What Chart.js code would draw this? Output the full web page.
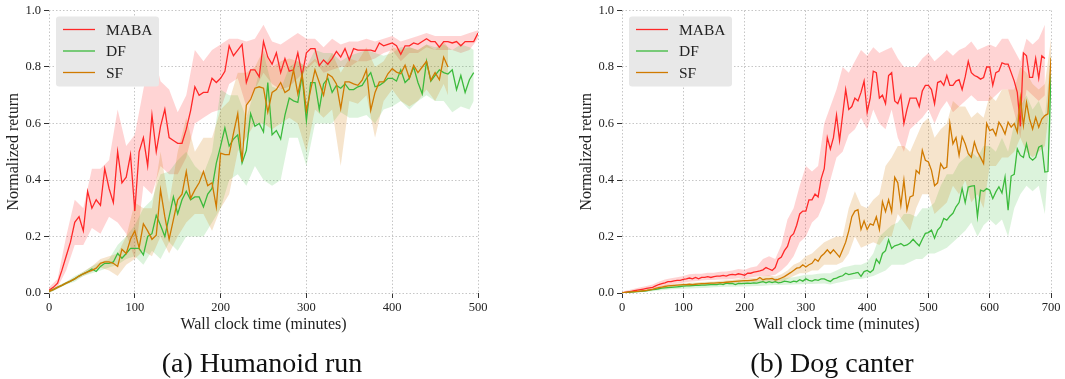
<!DOCTYPE html>
<html>
<head>
<meta charset="utf-8">
<script src="https://cdn.jsdelivr.net/npm/chart.js@4.4.1/dist/chart.umd.min.js"></script>
<style>
  body { margin: 0; background: #fff; width: 1065px; height: 379px; overflow: hidden; position: relative; }
  canvas { position: absolute; top: 0; }
  #humCanvas { left: 0; }
  #dogCanvas { left: 532px; }
  .caption { position: absolute; top: 347px; line-height: 32px; font-size: 28px; color: #111;
             font-family: "Liberation Serif", "Times New Roman", serif; transform: translateX(-50%); white-space: nowrap; }
</style>
</head>
<body>
<canvas id="humCanvas" width="532" height="379"></canvas>
<canvas id="dogCanvas" width="533" height="379"></canvas>
<div class="caption" style="left:262px">(a) Humanoid run</div>
<div class="caption" style="left:832px">(b) Dog canter</div>
<script>
const FONT = '"Liberation Serif", "Times New Roman", serif';

const seriesNames = ['MABA', 'DF', 'SF'];
const lineColors = ['#ff2828', '#3cba3c', '#d07a00'];
const bandColors = ['rgba(255,40,40,0.2)', 'rgba(60,186,60,0.18)', 'rgba(208,122,0,0.2)'];

// Humanoid run: mean curves, one value every 5 minutes from 0
const humMaba = [
  0.01, 0.02, 0.035, 0.08, 0.13, 0.18, 0.25, 0.27, 0.22, 0.36,
  0.30, 0.33, 0.31, 0.44, 0.37, 0.32, 0.50, 0.39, 0.41, 0.49,
  0.29, 0.50, 0.55, 0.45, 0.63, 0.50, 0.59, 0.65, 0.55, 0.54,
  0.53, 0.53, 0.58, 0.645, 0.73, 0.70, 0.71, 0.71, 0.76, 0.745,
  0.76, 0.785, 0.875, 0.84, 0.86, 0.88, 0.745, 0.79, 0.79, 0.765,
  0.89, 0.835, 0.81, 0.85, 0.78, 0.83, 0.785, 0.79, 0.85, 0.77,
  0.85, 0.865, 0.865, 0.805, 0.825, 0.81, 0.83, 0.855, 0.835, 0.865,
  0.825, 0.865, 0.86, 0.86, 0.86, 0.86, 0.855, 0.885, 0.875, 0.88,
  0.885, 0.875, 0.845, 0.875, 0.875, 0.885, 0.88, 0.89, 0.90, 0.89,
  0.89, 0.87, 0.89, 0.89, 0.885, 0.89, 0.875, 0.89, 0.89, 0.89,
  0.92
];
const humDf = [
  0.006, 0.012, 0.02, 0.027, 0.035, 0.042, 0.05, 0.06, 0.068, 0.075,
  0.085, 0.076, 0.094, 0.105, 0.105, 0.11, 0.14, 0.123, 0.14, 0.158,
  0.158, 0.158, 0.135, 0.2, 0.21, 0.275, 0.24, 0.2, 0.27, 0.34,
  0.28, 0.33, 0.36, 0.33, 0.34, 0.34, 0.305, 0.35, 0.37, 0.46,
  0.52, 0.585, 0.52, 0.545, 0.56, 0.46, 0.505, 0.635, 0.59, 0.60,
  0.57, 0.745, 0.56, 0.575, 0.545, 0.63, 0.69, 0.68, 0.675, 0.77,
  0.61, 0.745, 0.745, 0.65, 0.74, 0.76, 0.71, 0.735, 0.725, 0.74,
  0.72, 0.72, 0.73, 0.735, 0.76, 0.78, 0.73, 0.735, 0.745, 0.76,
  0.76, 0.75, 0.79, 0.745, 0.76, 0.80, 0.745, 0.705, 0.82, 0.75,
  0.77, 0.79, 0.78, 0.775, 0.79, 0.72, 0.77, 0.71, 0.755, 0.78
];
const humSf = [
  0.006, 0.012, 0.02, 0.027, 0.035, 0.042, 0.05, 0.06, 0.068, 0.075,
  0.08, 0.088, 0.105, 0.11, 0.11, 0.105, 0.094, 0.155, 0.14, 0.19,
  0.22, 0.16, 0.245, 0.22, 0.19, 0.205, 0.365, 0.27, 0.19, 0.26,
  0.33, 0.35, 0.43, 0.335, 0.365, 0.39, 0.43, 0.38, 0.39, 0.305,
  0.495, 0.49, 0.49, 0.565, 0.635, 0.465, 0.665, 0.685, 0.725, 0.73,
  0.725, 0.64, 0.71, 0.72, 0.745, 0.71, 0.72, 0.79, 0.705, 0.775,
  0.645, 0.72, 0.79, 0.745, 0.70, 0.775, 0.765, 0.74, 0.653, 0.747,
  0.747, 0.74, 0.735, 0.753, 0.79, 0.647, 0.71, 0.747, 0.747, 0.776,
  0.794, 0.782, 0.776, 0.806, 0.76, 0.806, 0.78, 0.80, 0.82, 0.753,
  0.78, 0.755, 0.835, 0.80
];

// Humanoid run: shaded bands, one value every 10 minutes (last point at the series end)
const humMabaLo = [0.0, 0.02, 0.08, 0.17, 0.17, 0.23, 0.21, 0.27, 0.25, 0.21, 0.12, 0.38, 0.35, 0.45, 0.42, 0.42, 0.48,
  0.60, 0.62, 0.64, 0.65, 0.74, 0.76, 0.66, 0.72, 0.78, 0.74, 0.72, 0.73, 0.76, 0.79, 0.82, 0.78, 0.79, 0.80, 0.80,
  0.82, 0.82, 0.83, 0.85, 0.86, 0.82, 0.85, 0.85, 0.87, 0.86, 0.86, 0.86, 0.85, 0.86, 0.90];
const humMabaHi = [0.02, 0.05, 0.2, 0.33, 0.30, 0.44, 0.44, 0.47, 0.65, 0.52, 0.56, 0.72, 0.87, 0.75, 0.72, 0.64, 0.70,
  0.86, 0.82, 0.86, 0.88, 0.90, 0.90, 0.89, 0.90, 0.95, 0.89, 0.88, 0.90, 0.92, 0.90, 0.90, 0.87, 0.90, 0.88, 0.89,
  0.89, 0.90, 0.89, 0.90, 0.91, 0.89, 0.90, 0.91, 0.92, 0.91, 0.91, 0.91, 0.91, 0.92, 0.93];
const humDfLo = [0.0, 0.015, 0.03, 0.04, 0.06, 0.07, 0.08, 0.09, 0.10, 0.12, 0.13, 0.1, 0.15, 0.12, 0.18, 0.15, 0.2,
  0.2, 0.2, 0.25, 0.3, 0.4, 0.42, 0.38, 0.45, 0.4, 0.38, 0.4, 0.55, 0.55, 0.45, 0.6, 0.6, 0.6, 0.64, 0.62, 0.62,
  0.63, 0.6, 0.65, 0.66, 0.68, 0.65, 0.68, 0.70, 0.68, 0.68, 0.64, 0.66, 0.65, 0.68];
const humDfHi = [0.01, 0.025, 0.04, 0.06, 0.075, 0.095, 0.11, 0.12, 0.17, 0.2, 0.24, 0.3, 0.33, 0.42, 0.43, 0.47, 0.5,
  0.45, 0.42, 0.5, 0.72, 0.7, 0.7, 0.62, 0.72, 0.85, 0.73, 0.72, 0.8, 0.82, 0.8, 0.86, 0.85, 0.85, 0.82, 0.84, 0.85,
  0.86, 0.85, 0.84, 0.85, 0.87, 0.87, 0.86, 0.88, 0.87, 0.88, 0.86, 0.88, 0.87, 0.86];
const humSfLo = [0.0, 0.015, 0.03, 0.045, 0.06, 0.075, 0.09, 0.08, 0.06, 0.1, 0.12, 0.15, 0.13, 0.2, 0.14, 0.2, 0.25,
  0.28, 0.28, 0.22, 0.3, 0.35, 0.5, 0.55, 0.6, 0.6, 0.58, 0.6, 0.62, 0.6, 0.5, 0.65, 0.62, 0.65, 0.45, 0.68, 0.67,
  0.70, 0.55, 0.68, 0.72, 0.68, 0.66, 0.68, 0.72, 0.68, 0.74, 0.70];
const humSfHi = [0.01, 0.025, 0.04, 0.055, 0.075, 0.095, 0.12, 0.13, 0.14, 0.2, 0.32, 0.3, 0.3, 0.5, 0.32, 0.5, 0.62,
  0.5, 0.55, 0.55, 0.65, 0.68, 0.78, 0.78, 0.8, 0.86, 0.8, 0.82, 0.83, 0.82, 0.8, 0.83, 0.8, 0.85, 0.78, 0.83, 0.82,
  0.87, 0.80, 0.82, 0.87, 0.86, 0.87, 0.86, 0.88, 0.86, 0.89, 0.87];

// Dog canter: mean curves, one value every 5 minutes from 0
const dogMaba = [
  0.0, 0.002, 0.004, 0.006, 0.008, 0.01, 0.012, 0.014, 0.016, 0.018,
  0.02, 0.025, 0.03, 0.033, 0.036, 0.04, 0.04, 0.043, 0.045, 0.045,
  0.048, 0.05, 0.053, 0.05, 0.055, 0.05, 0.055, 0.055, 0.058, 0.055,
  0.058, 0.06, 0.06, 0.062, 0.06, 0.064, 0.066, 0.064, 0.068, 0.066,
  0.063, 0.07, 0.07, 0.074, 0.076, 0.078, 0.082, 0.09, 0.085, 0.08,
  0.09, 0.12, 0.127, 0.15, 0.165, 0.2, 0.21, 0.24, 0.28, 0.29,
  0.29, 0.33, 0.33, 0.35, 0.34, 0.405, 0.44, 0.55, 0.51, 0.55,
  0.63, 0.54, 0.63, 0.72, 0.65, 0.66, 0.69, 0.68, 0.71, 0.75,
  0.64, 0.69, 0.785, 0.78, 0.69, 0.70, 0.67, 0.77, 0.78, 0.68,
  0.67, 0.70, 0.60, 0.65, 0.69, 0.69, 0.69, 0.66, 0.715, 0.735,
  0.735, 0.72, 0.67, 0.745, 0.75, 0.735, 0.77, 0.735, 0.735, 0.75,
  0.755, 0.72, 0.765, 0.82, 0.78, 0.77, 0.765, 0.757, 0.763, 0.80,
  0.80, 0.735, 0.78, 0.786, 0.815, 0.81, 0.81, 0.78, 0.75, 0.71,
  0.59, 0.85, 0.84, 0.763, 0.763, 0.83, 0.76, 0.84, 0.83
];
const dogDf = [
  0.0, 0.001, 0.002, 0.003, 0.004, 0.005, 0.006, 0.007, 0.008, 0.01,
  0.012, 0.013, 0.015, 0.017, 0.018, 0.019, 0.02, 0.021, 0.022, 0.023,
  0.024, 0.025, 0.025, 0.026, 0.027, 0.027, 0.028, 0.028, 0.029, 0.03,
  0.03, 0.03, 0.032, 0.03, 0.035, 0.033, 0.034, 0.03, 0.034, 0.033,
  0.034, 0.035, 0.034, 0.036, 0.035, 0.038, 0.04, 0.036, 0.04, 0.037,
  0.04, 0.036, 0.038, 0.042, 0.04, 0.038, 0.042, 0.04, 0.047, 0.042,
  0.05, 0.045, 0.042, 0.047, 0.045, 0.05, 0.05, 0.045, 0.041, 0.05,
  0.053, 0.058, 0.061, 0.07, 0.065, 0.068, 0.07, 0.073, 0.059, 0.076,
  0.08, 0.073, 0.082, 0.12, 0.105, 0.14, 0.15, 0.188, 0.158, 0.167,
  0.17, 0.175, 0.167, 0.17, 0.178, 0.19, 0.178, 0.167, 0.19, 0.211,
  0.214, 0.223, 0.194, 0.223, 0.235, 0.264, 0.258, 0.272, 0.282, 0.305,
  0.32, 0.37, 0.32, 0.375, 0.378, 0.38, 0.27, 0.364, 0.36, 0.37,
  0.364, 0.334, 0.358, 0.376, 0.354, 0.41, 0.293, 0.414, 0.42, 0.51,
  0.487, 0.48, 0.528, 0.48, 0.47, 0.48, 0.516, 0.522, 0.428, 0.43,
  0.775
];
const dogSf = [
  0.0, 0.002, 0.003, 0.004, 0.005, 0.006, 0.007, 0.008, 0.009, 0.011,
  0.013, 0.016, 0.019, 0.021, 0.023, 0.025, 0.026, 0.027, 0.028, 0.029,
  0.03, 0.03, 0.031, 0.03, 0.031, 0.032, 0.033, 0.033, 0.034, 0.035,
  0.035, 0.036, 0.037, 0.037, 0.038, 0.039, 0.04, 0.041, 0.042, 0.043,
  0.044, 0.044, 0.045, 0.046, 0.047, 0.055, 0.047, 0.05, 0.05, 0.052,
  0.046, 0.048, 0.053, 0.058, 0.065, 0.072, 0.08, 0.088, 0.09, 0.1,
  0.092, 0.1, 0.105, 0.12, 0.112, 0.13, 0.14, 0.153, 0.14, 0.153,
  0.14, 0.127, 0.153, 0.18, 0.22, 0.27, 0.29, 0.295, 0.225, 0.255,
  0.225, 0.245, 0.24, 0.27, 0.225, 0.323, 0.288, 0.33, 0.288, 0.41,
  0.39, 0.31, 0.40, 0.295, 0.34, 0.345, 0.434, 0.423, 0.505, 0.47,
  0.464, 0.434, 0.38, 0.39, 0.458, 0.44, 0.446, 0.60, 0.528, 0.55,
  0.487, 0.554, 0.528, 0.493, 0.48, 0.534, 0.50, 0.48, 0.458, 0.60,
  0.575, 0.58, 0.558, 0.605, 0.587, 0.563, 0.605, 0.587, 0.60, 0.57,
  0.69, 0.593, 0.675, 0.616, 0.58, 0.622, 0.587, 0.616, 0.628, 0.634,
  0.833
];

// Dog canter: shaded bands, one value every 10 minutes
const dogMabaLo = [0, 0, 0.003, 0.006, 0.01, 0.014, 0.02, 0.026, 0.03, 0.034, 0.036, 0.04, 0.042, 0.044, 0.046, 0.046,
  0.048, 0.048, 0.05, 0.052, 0.05, 0.055, 0.058, 0.06, 0.06, 0.065, 0.08, 0.1, 0.13, 0.18, 0.2, 0.25, 0.27, 0.32, 0.4,
  0.48, 0.5, 0.56, 0.58, 0.62, 0.58, 0.65, 0.6, 0.58, 0.65, 0.55, 0.5, 0.58, 0.6, 0.62, 0.65, 0.6, 0.65, 0.68, 0.64,
  0.66, 0.68, 0.7, 0.68, 0.68, 0.68, 0.7, 0.72, 0.72, 0.64, 0.55, 0.72, 0.7, 0.68, 0.7];
const dogMabaHi = [0.005, 0.01, 0.015, 0.02, 0.025, 0.03, 0.04, 0.048, 0.052, 0.056, 0.06, 0.066, 0.068, 0.068, 0.072,
  0.072, 0.075, 0.076, 0.08, 0.085, 0.082, 0.09, 0.095, 0.12, 0.13, 0.12, 0.17, 0.26, 0.3, 0.38, 0.45, 0.43, 0.45, 0.6,
  0.66, 0.72, 0.8, 0.78, 0.82, 0.86, 0.84, 0.87, 0.85, 0.86, 0.87, 0.83, 0.8, 0.8, 0.8, 0.83, 0.85, 0.82, 0.84, 0.86,
  0.84, 0.86, 0.87, 0.89, 0.86, 0.87, 0.88, 0.87, 0.9, 0.9, 0.86, 0.82, 0.9, 0.88, 0.9, 0.95];
const dogDfLo = [0, 0.001, 0.002, 0.003, 0.004, 0.006, 0.009, 0.011, 0.013, 0.014, 0.015, 0.016, 0.017, 0.018, 0.019,
  0.02, 0.021, 0.022, 0.022, 0.023, 0.023, 0.024, 0.025, 0.026, 0.027, 0.028, 0.028, 0.029, 0.03, 0.031, 0.032, 0.032,
  0.033, 0.034, 0.03, 0.035, 0.04, 0.045, 0.05, 0.05, 0.055, 0.06, 0.07, 0.08, 0.1, 0.1, 0.1, 0.11, 0.12, 0.12, 0.14,
  0.14, 0.15, 0.16, 0.18, 0.2, 0.22, 0.25, 0.2, 0.24, 0.26, 0.24, 0.26, 0.2, 0.3, 0.35, 0.38, 0.36, 0.38, 0.28, 0.6];
const dogDfHi = [0.002, 0.004, 0.006, 0.008, 0.011, 0.015, 0.02, 0.024, 0.027, 0.029, 0.031, 0.033, 0.035, 0.036, 0.037,
  0.038, 0.04, 0.042, 0.043, 0.044, 0.045, 0.046, 0.047, 0.05, 0.052, 0.052, 0.053, 0.054, 0.056, 0.06, 0.065, 0.065,
  0.068, 0.07, 0.07, 0.08, 0.09, 0.095, 0.1, 0.1, 0.11, 0.14, 0.2, 0.22, 0.24, 0.25, 0.28, 0.28, 0.27, 0.3, 0.3, 0.32,
  0.38, 0.42, 0.42, 0.46, 0.48, 0.5, 0.48, 0.52, 0.52, 0.5, 0.55, 0.5, 0.6, 0.66, 0.7, 0.65, 0.68, 0.62, 0.85];
const dogSfLo = [0, 0.002, 0.004, 0.005, 0.007, 0.01, 0.015, 0.018, 0.02, 0.022, 0.024, 0.025, 0.025, 0.027, 0.028,
  0.029, 0.03, 0.031, 0.033, 0.034, 0.036, 0.037, 0.038, 0.038, 0.04, 0.036, 0.04, 0.05, 0.06, 0.07, 0.07, 0.08, 0.08,
  0.1, 0.1, 0.1, 0.11, 0.14, 0.2, 0.16, 0.17, 0.18, 0.17, 0.2, 0.2, 0.28, 0.25, 0.22, 0.3, 0.35, 0.35, 0.28, 0.3, 0.32,
  0.38, 0.35, 0.4, 0.32, 0.35, 0.3, 0.45, 0.45, 0.48, 0.48, 0.5, 0.55, 0.5, 0.48, 0.5, 0.52, 0.7];
const dogSfHi = [0.003, 0.005, 0.008, 0.01, 0.013, 0.017, 0.024, 0.028, 0.031, 0.033, 0.035, 0.036, 0.037, 0.039, 0.04,
  0.041, 0.043, 0.045, 0.047, 0.05, 0.052, 0.053, 0.055, 0.06, 0.062, 0.058, 0.066, 0.08, 0.1, 0.11, 0.13, 0.14, 0.16,
  0.18, 0.19, 0.2, 0.2, 0.3, 0.36, 0.31, 0.3, 0.33, 0.35, 0.45, 0.48, 0.52, 0.52, 0.5, 0.55, 0.6, 0.62, 0.55, 0.58, 0.6,
  0.68, 0.66, 0.66, 0.62, 0.64, 0.62, 0.7, 0.68, 0.72, 0.72, 0.72, 0.8, 0.78, 0.74, 0.72, 0.74, 0.9];

// time axis helpers: 0, dx, 2dx ... up to last (last appended if off-grid)
function steps(last, dx) {
  const xs = [];
  for (let x = 0; x <= last; x += dx) xs.push(x);
  if (xs[xs.length - 1] !== last) xs.push(last);
  return xs;
}
function toPoints(xs, ys) {
  return ys.map((y, i) => ({ x: xs[i], y: y }));
}

const boxLegend = {
  id: 'boxLegend',
  afterDraw(chart) {
    const ctx = chart.ctx;
    const a = chart.chartArea;
    const x0 = a.left + 7, y0 = a.top + 6;
    ctx.save();
    ctx.fillStyle = '#e8e8e8';
    ctx.beginPath();
    ctx.roundRect(x0, y0, 103, 70, 3);
    ctx.fill();
    ctx.font = '15.5px ' + FONT;
    ctx.textBaseline = 'middle';
    seriesNames.forEach((name, i) => {
      const y = y0 + 13 + i * 21.5;
      ctx.strokeStyle = lineColors[i];
      ctx.lineWidth = 1.3;
      ctx.beginPath();
      ctx.moveTo(x0 + 7, y);
      ctx.lineTo(x0 + 39, y);
      ctx.stroke();
      ctx.fillStyle = '#222';
      ctx.fillText(name, x0 + 50, y + 1);
    });
    ctx.restore();
  }
};

function makeChart(id, xMax, padLeft, padRight, lines, bands) {
  const datasets = [];
  lines.forEach((ys, i) => {
    datasets.push({
      label: seriesNames[i],
      data: toPoints(ys.map((_, k) => k * 5), ys),
      borderColor: lineColors[i],
      borderWidth: 1.3,
      pointRadius: 0,
      fill: false,
      tension: 0,
      order: 2 - i
    });
  });
  bands.forEach((b, i) => {
    const xs = steps(b.last, 10);
    datasets.push({
      label: '', data: toPoints(xs, b.lo), borderColor: 'rgba(0,0,0,0)', borderWidth: 0,
      pointRadius: 0, fill: false, order: 5 - i
    });
    datasets.push({
      label: '', data: toPoints(xs, b.hi), borderColor: 'rgba(0,0,0,0)', borderWidth: 0,
      pointRadius: 0, fill: '-1', backgroundColor: bandColors[i], order: 5 - i
    });
  });

  return new Chart(document.getElementById(id), {
    type: 'line',
    data: { datasets: datasets },
    plugins: [boxLegend],
    options: {
      responsive: false,
      animation: false,
      events: [],
      layout: { padding: { left: padLeft, right: padRight, top: 10, bottom: 45 } },
      plugins: { legend: { display: false }, tooltip: { enabled: false } },
      scales: {
        x: {
          type: 'linear', min: 0, max: xMax,
          ticks: { stepSize: 100, color: '#222', font: { family: FONT, size: 12.5 }, padding: 2, maxRotation: 0 },
          grid: { color: '#b8b8b8', lineWidth: 0.8, tickColor: '#333', tickLength: 5, tickWidth: 1, tickBorderDash: [] },
          border: { display: false, dash: [1.5, 2] },
          title: { display: true, text: 'Wall clock time (minutes)', color: '#222',
                   font: { family: FONT, size: 16 }, padding: 0 },
          afterFit: s => { s.height = 41; }
        },
        y: {
          min: 0, max: 1,
          ticks: { stepSize: 0.2, color: '#222', font: { family: FONT, size: 12.5 }, padding: 3,
                   callback: v => v.toFixed(1) },
          grid: { color: '#b8b8b8', lineWidth: 0.8, tickColor: '#333', tickLength: 5, tickWidth: 1, tickBorderDash: [] },
          border: { display: false, dash: [1.5, 2] },
          title: { display: true, text: 'Normalized return', color: '#222',
                   font: { family: FONT, size: 16 }, padding: { top: 4, bottom: 0 } },
          afterFit: s => { s.width = 49; }
        }
      }
    }
  });
}

makeChart('humCanvas', 500, 0, 54, [humMaba, humDf, humSf], [
  { last: 500, lo: humMabaLo, hi: humMabaHi },
  { last: 495, lo: humDfLo, hi: humDfHi },
  { last: 465, lo: humSfLo, hi: humSfHi }
]);
makeChart('dogCanvas', 700, 41, 14, [dogMaba, dogDf, dogSf], [
  { last: 690, lo: dogMabaLo, hi: dogMabaHi },
  { last: 700, lo: dogDfLo, hi: dogDfHi },
  { last: 700, lo: dogSfLo, hi: dogSfHi }
]);
</script>
</body>
</html>
